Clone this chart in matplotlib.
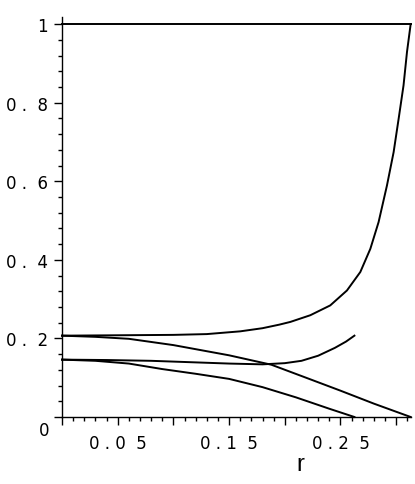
import matplotlib
matplotlib.use("Agg")
import matplotlib.pyplot as plt
from matplotlib.ticker import MultipleLocator, FuncFormatter

# values
r_top = [0.0, 0.313]
y_top = [1.0, 1.0]

r_a = [0.0, 0.05, 0.1, 0.13, 0.16, 0.18, 0.195, 0.205, 0.2229, 0.2408, 0.2558,
       0.2678, 0.2768, 0.2842, 0.2917, 0.2977, 0.3022, 0.3066, 0.3097, 0.313]
y_a = [0.207, 0.208, 0.209, 0.211, 0.218, 0.226, 0.235, 0.242, 0.259, 0.284, 0.322,
       0.369, 0.428, 0.496, 0.589, 0.674, 0.759, 0.844, 0.929, 1.0]

r_b = [0.0, 0.03, 0.06, 0.1, 0.15, 0.188, 0.22, 0.25, 0.28, 0.313]
y_b = [0.207, 0.204, 0.199, 0.183, 0.157, 0.133, 0.099, 0.067, 0.034, 0.0]

r_c = [0.0, 0.04, 0.08, 0.12, 0.15, 0.18, 0.2, 0.215, 0.23, 0.245, 0.255, 0.2625]
y_c = [0.146, 0.145, 0.143, 0.139, 0.136, 0.134, 0.137, 0.143, 0.156, 0.176, 0.192, 0.207]

r_d = [0.0, 0.03, 0.06, 0.09, 0.12, 0.15, 0.18, 0.21, 0.24, 0.2625]
y_d = [0.146, 0.143, 0.136, 0.122, 0.110, 0.097, 0.076, 0.050, 0.021, 0.0]

xticks = [0.05, 0.15, 0.25]
xtick_labels = ["0 . 0  5", "0 . 1  5", "0 . 2  5"]
yticks = [0.2, 0.4, 0.6, 0.8, 1.0]
ytick_labels = ["0 .  2", "0 .  4", "0 .  6", "0 .  8", "1"]


def lookup(ticks, labels):
    def fmt(v, pos):
        for t, lab in zip(ticks, labels):
            if abs(v - t) < 1e-6:
                return lab
        return ""
    return FuncFormatter(fmt)


fig = plt.figure(figsize=(4.15, 4.85), dpi=100)
ax = fig.add_axes([62 / 415, 67 / 485, 349 / 415, 400 / 485])

for xs, ys in [(r_top, y_top), (r_a, y_a), (r_b, y_b), (r_c, y_c), (r_d, y_d)]:
    ax.plot(xs, ys, color="black", lw=1.4, clip_on=False,
            solid_joinstyle="round")

ax.set_xlim(0, 0.3133)
ax.set_ylim(0, 1.018)

for s in ["top", "right"]:
    ax.spines[s].set_visible(False)
for s in ["left", "bottom"]:
    ax.spines[s].set_linewidth(1.0)

ax.xaxis.set_major_locator(MultipleLocator(0.05))
ax.xaxis.set_minor_locator(MultipleLocator(0.01))
ax.yaxis.set_major_locator(MultipleLocator(0.2))
ax.yaxis.set_minor_locator(MultipleLocator(0.04))
ax.xaxis.set_major_formatter(lookup(xticks, xtick_labels))
ax.yaxis.set_major_formatter(lookup(yticks, ytick_labels))

ax.tick_params(which="major", length=6, width=1.0, direction="out",
               labelsize=12)
ax.tick_params(which="minor", length=3, width=1.0, direction="out")
ax.tick_params(axis="x", pad=6)
ax.tick_params(axis="y", pad=4)
for lab in ax.get_xticklabels() + ax.get_yticklabels():
    lab.set_family("DejaVu Sans")

# the y "0" sits a little below the corner, like the original
ax.annotate("0", xy=(0, 0), xytext=(-13, -13), textcoords="offset pixels",
            ha="right", va="center", family="DejaVu Sans", size=12)

ax.set_xlabel("r", family="Liberation Sans", size=17)
ax.xaxis.set_label_coords((300 - 62) / 349, -0.09)

fig.savefig("out.png", dpi=100)
